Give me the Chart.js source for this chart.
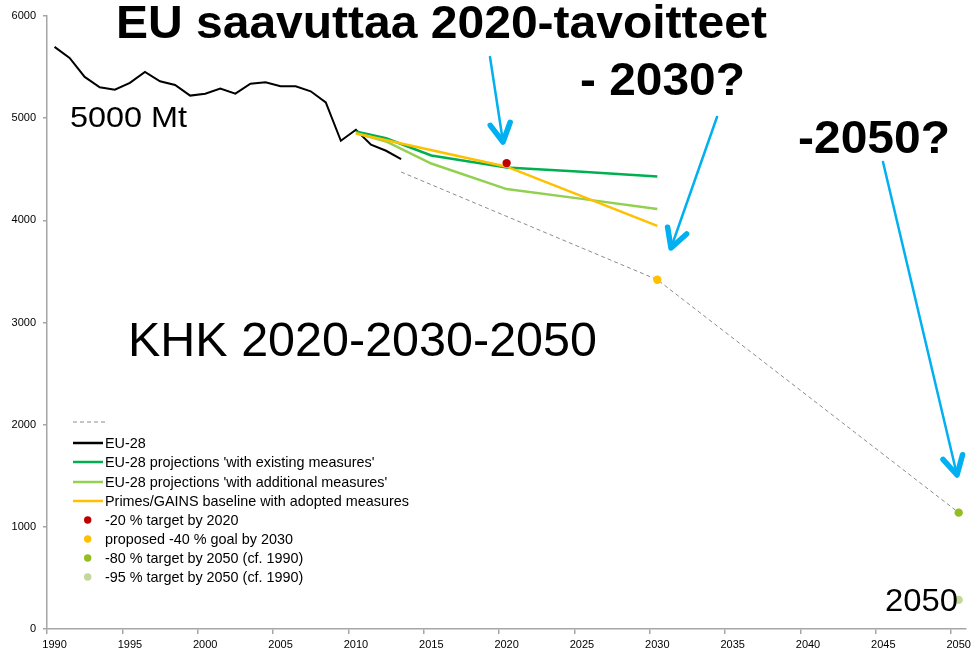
<!DOCTYPE html>
<html><head><meta charset="utf-8">
<script src="https://cdn.jsdelivr.net/npm/chart.js@4"></script>
<style>
html,body{margin:0;padding:0;background:#fff;}
#wrap{position:relative;width:975px;height:651px;overflow:hidden;font-family:"Liberation Sans",Arial,sans-serif;background:#fff;}
canvas{position:absolute;left:0;top:0;}
.ann{position:absolute;white-space:nowrap;line-height:1;color:#000;transform-origin:0 0;}
.leg{position:absolute;white-space:nowrap;height:16px;line-height:16px;font-size:14.4px;color:#000;}
.leg svg{position:absolute;left:0;top:0;}
.leg span{position:absolute;left:32px;top:0;}
</style></head>
<body><div id="wrap"><canvas id="c" width="975" height="651"></canvas></div>
<script>
// ---- categories ----
const years = ['1990','1991','1992','1993','1994','1995','1996','1997','1998','1999',
  '2000','2001','2002','2003','2004','2005','2006','2007','2008','2009',
  '2010','2011','2012','2013','2014','2015','2016','2017','2018','2019',
  '2020','2021','2022','2023','2024','2025','2026','2027','2028','2029',
  '2030','2031','2032','2033','2034','2035','2036','2037','2038','2039',
  '2040','2041','2042','2043','2044','2045','2046','2047','2048','2049','2050'];
const yTicks = [0,1000,2000,3000,4000,5000,6000];

// ---- series ----
const eu28Years  = ['1990','1991','1992','1993','1994','1995','1996','1997','1998','1999','2000','2001','2002','2003','2004','2005','2006','2007','2008','2009','2010','2011','2012','2013'];
const eu28Values = [5698,5590,5404,5302,5279,5345,5453,5361,5325,5221,5240,5289,5240,5338,5351,5312,5312,5263,5155,4779,4887,4740,4681,4600];

const wemYears  = ['2010','2012','2015','2020','2025','2030'];
const wemValues = [4871,4803,4635,4518,4475,4429];

const wamYears  = ['2010','2012','2015','2020','2025','2030'];
const wamValues = [4855,4772,4556,4306,4210,4110];

const primesYears  = ['2010','2020','2030'];
const primesValues = [4850,4525,3945];

const pathYears  = ['2013','2030','2050'];
const pathValues = [4473,3419,1139];

const t2020Years = ['2020']; const t2020Values = [4560];
const g2030Years = ['2030']; const g2030Values = [3419];
const t80Years   = ['2050']; const t80Values   = [1139];
const t95Years   = ['2050']; const t95Values   = [285];

const pts = (xs, ys) => xs.map((x, i) => ({x: x, y: ys[i]}));
const FONT = '"Liberation Sans", Arial, sans-serif';

function lineDs(label, xs, ys, color, width, order, dash) {
  return {label, data: pts(xs, ys), borderColor: color, backgroundColor: color,
    borderWidth: width, borderDash: dash || [], pointRadius: 0, tension: 0,
    fill: false, order, legendKind: 'line'};
}
function pointDs(label, xs, ys, color, order) {
  return {label, data: pts(xs, ys), showLine: false, borderColor: color,
    backgroundColor: color, pointBackgroundColor: color, pointBorderWidth: 0,
    pointRadius: 4.2, order, legendKind: 'point'};
}

const datasets = [
  lineDs('', pathYears, pathValues, '#8C8C8C', 1, 6, [4, 3]),
  lineDs('EU-28', eu28Years, eu28Values, '#000000', 2, 5),
  lineDs("EU-28 projections 'with existing measures'", wemYears, wemValues, '#00B050', 2.5, 4),
  lineDs("EU-28 projections 'with additional measures'", wamYears, wamValues, '#92D050', 2.5, 3),
  lineDs('Primes/GAINS baseline with adopted measures', primesYears, primesValues, '#FFC000', 2.5, 2),
  pointDs('-20 % target by 2020', t2020Years, t2020Values, '#C00000', 1),
  pointDs('proposed -40 % goal by 2030', g2030Years, g2030Values, '#FFC000', 1),
  pointDs('-80 % target by 2050 (cf. 1990)', t80Years, t80Values, '#92BE1E', 1),
  pointDs('-95 % target by 2050 (cf. 1990)', t95Years, t95Values, '#C4D79B', 1)
];

// ---- blue arrows (decorations) ----
const arrows = [
  {from: [490, 57],  to: [503, 142]},
  {from: [717, 117], to: [671, 248]},
  {from: [883, 162], to: [957, 475]}
];
const arrowPlugin = {
  id: 'arrows',
  afterDatasetsDraw(chart) {
    const ctx = chart.ctx;
    ctx.save();
    ctx.strokeStyle = '#00B0F0';
    ctx.lineCap = 'round'; ctx.lineJoin = 'round';
    for (const a of arrows) {
      const [fx, fy] = a.from, [tx, ty] = a.to;
      ctx.lineWidth = 2.5;
      ctx.beginPath(); ctx.moveTo(fx, fy); ctx.lineTo(tx, ty); ctx.stroke();
      const ang = Math.atan2(ty - fy, tx - fx), L = 21, sp = 0.5;
      ctx.lineWidth = 5.5;
      ctx.beginPath();
      ctx.moveTo(tx - L * Math.cos(ang - sp), ty - L * Math.sin(ang - sp));
      ctx.lineTo(tx, ty);
      ctx.lineTo(tx - L * Math.cos(ang + sp), ty - L * Math.sin(ang + sp));
      ctx.stroke();
    }
    ctx.restore();
  }
};

const AXIS = '#A6A6A6';
const chart = new Chart(document.getElementById('c'), {
  type: 'line',
  data: {labels: years, datasets},
  options: {
    responsive: false, animation: false, devicePixelRatio: 1,
    layout: {padding: {top: 16, right: 8, left: 0, bottom: 0}},
    plugins: {legend: {display: false}, tooltip: {enabled: false}},
    scales: {
      x: {
        type: 'category', offset: true,
        grid: {offset: true, drawOnChartArea: false, drawTicks: true, tickLength: 5, lineWidth: 1.5,
          color: c => (c.tick && c.index % 5 === 0) ? AXIS : 'rgba(0,0,0,0)'},
        border: {display: true, color: AXIS, width: 1.5},
        ticks: {autoSkip: false, maxRotation: 0, minRotation: 0, padding: 4, color: '#000',
          font: {family: FONT, size: 11},
          callback: function (v) { const l = this.getLabelForValue(v); return (+l) % 5 === 0 ? l : ''; }},
        afterFit: s => { s.height = 22; }
      },
      y: {
        min: 0, max: 6000,
        afterBuildTicks: s => { s.ticks = yTicks.map(v => ({value: v})); },
        grid: {drawOnChartArea: false, drawTicks: true, tickLength: 4, color: AXIS, lineWidth: 1.5},
        border: {display: true, color: AXIS, width: 1.5},
        ticks: {padding: 7, color: '#000', font: {family: FONT, size: 11},
          callback: v => String(v)},
        afterFit: s => { s.width = 47; }
      }
    }
  },
  plugins: [arrowPlugin]
});

// ---- HTML legend built from datasets ----
const wrap = document.getElementById('wrap');
const legendRowsY = [422, 443.3, 462.4, 481.5, 500.6, 519.7, 538.8, 557.9, 577];
chart.data.datasets.forEach((ds, i) => {
  const row = document.createElement('div');
  row.className = 'leg';
  row.style.left = '73px';
  row.style.top = (legendRowsY[i] - 8) + 'px';
  let svg;
  if (ds.legendKind === 'line') {
    const w = ds.borderDash.length ? 34 : 30;
    svg = `<svg width="${w}" height="16"><line x1="0" y1="8" x2="${w}" y2="8" stroke="${ds.borderColor}" stroke-width="${ds.borderWidth === 1 ? 1 : 2.5}" ${ds.borderDash.length ? 'stroke-dasharray="' + ds.borderDash.join(' ') + '"' : ''}/></svg>`;
  } else {
    svg = `<svg width="30" height="16"><circle cx="14.7" cy="8" r="3.7" fill="${ds.pointBackgroundColor}"/></svg>`;
  }
  row.innerHTML = svg + '<span></span>';
  row.querySelector('span').textContent = ds.label;
  wrap.appendChild(row);
});

// ---- text annotations ----
const notes = [
  {text: 'EU saavuttaa 2020-tavoitteet', bold: true, size: 47, x: 116, base: 37.5, w: 651},
  {text: '- 2030?', bold: true, size: 47, x: 580, base: 95, w: 165},
  {text: '-2050?', bold: true, size: 47, x: 798, base: 153, w: 152},
  {text: '5000 Mt', bold: false, size: 30, x: 70, base: 127.3, w: 117},
  {text: 'KHK 2020-2030-2050', bold: false, size: 48, x: 128, base: 357, w: 469},
  {text: '2050', bold: false, size: 31, x: 885, base: 611.7, w: 73}
];
notes.forEach(n => {
  const d = document.createElement('div');
  d.className = 'ann';
  d.textContent = n.text;
  d.style.fontSize = n.size + 'px';
  d.style.fontWeight = n.bold ? 'bold' : 'normal';
  d.style.left = n.x + 'px';
  d.style.top = (n.base - 0.8465 * n.size) + 'px';
  wrap.appendChild(d);
  const nat = d.getBoundingClientRect().width;
  d.style.transform = 'scaleX(' + (n.w / nat).toFixed(4) + ')';
});
</script>
</body></html>
